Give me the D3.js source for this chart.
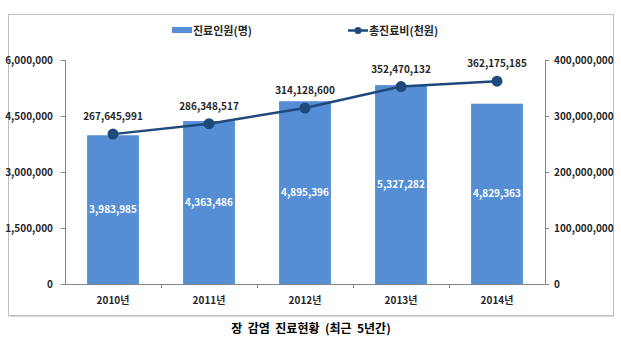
<!DOCTYPE html>
<html><head><meta charset="utf-8">
<script src="https://cdn.jsdelivr.net/npm/d3@7"></script>
<style>
html,body{margin:0;padding:0;background:#fff;}
svg{display:block;font-family:"Noto Sans CJK KR","Noto Sans",sans-serif;font-weight:bold;}
</style></head><body>
<svg id="c" width="621" height="342"></svg>
<script>
const categories = ["2010년","2011년","2012년","2013년","2014년"];
const patients = [3983985,4363486,4895396,5327282,4829363];
const costs = [267645991,286348517,314128600,352470132,362175185];
const leftTicks = [0,1500000,3000000,4500000,6000000];
const rightTicks = [0,100000000,200000000,300000000,400000000];
const seriesNames = ["진료인원(명)","총진료비(천원)"];
const title = "장  감염  진료현황  (최근  5년간)";

const svg = d3.select("#c");
const fmt = d3.format(",");
const L = 65, R = 545, T = 60, B = 284;
const barColor = "#558ed5", lineColor = "#1f497d", txt = "#262626";

svg.append("rect").attr("x",8.5).attr("y",14.5).attr("width",605).attr("height",301)
  .attr("fill","#fff").attr("stroke","#bfbfbf").attr("stroke-width",1);
svg.append("line").attr("x1",9).attr("x2",614).attr("y1",316.5).attr("y2",316.5).attr("stroke","#d9d9d9");

const x = d3.scaleBand().domain(categories).range([L,R]).paddingInner(0).paddingOuter(0);
const yL = d3.scaleLinear().domain([0,6000000]).range([B,T]);
const yR = d3.scaleLinear().domain([0,400000000]).range([B,T]);
const bw = x.bandwidth()*0.54;

// bars
svg.selectAll("rect.bar").data(patients).join("rect").attr("class","bar")
  .attr("x",(d,i)=>x(categories[i])+x.bandwidth()/2-bw/2)
  .attr("width",bw).attr("y",d=>yL(d)).attr("height",d=>B-yL(d)).attr("fill",barColor);
svg.selectAll("text.bv").data(patients).join("text").attr("class","bv")
  .attr("x",(d,i)=>x(categories[i])+x.bandwidth()/2)
  .attr("y",d=>(yL(d)+B)/2).attr("dy","0.35em").attr("text-anchor","middle")
  .attr("fill","#fff").attr("font-size",10).text(d=>fmt(d));

// axes
const axL = svg.append("g").attr("transform",`translate(${L},0)`)
  .call(d3.axisLeft(yL).tickValues(leftTicks).tickFormat(fmt).tickSize(4).tickPadding(8));
const axR = svg.append("g").attr("transform",`translate(${R},0)`)
  .call(d3.axisRight(yR).tickValues(rightTicks).tickFormat(fmt).tickSize(4).tickPadding(5));
const axB = svg.append("g").attr("transform",`translate(0,${B})`)
  .call(d3.axisBottom(x).tickSize(0).tickPadding(13));
[axL,axR,axB].forEach(g=>{
  g.select(".domain").attr("stroke","#868686");
  g.selectAll(".tick line").attr("stroke","#868686");
  g.selectAll("text").attr("fill",txt).attr("font-size",10).attr("font-family",'"Noto Sans CJK KR",sans-serif').attr("font-weight","bold");
});
axB.select(".domain").attr("d",`M${L},0.5H${R}`);
// category boundary ticks
svg.selectAll("line.ct").data(categories.slice(1)).join("line").attr("class","ct")
  .attr("x1",d=>x(d)+0.5).attr("x2",d=>x(d)+0.5).attr("y1",B).attr("y2",B+4).attr("stroke","#868686");

// line
const line = d3.line().x((d,i)=>x(categories[i])+x.bandwidth()/2).y(d=>yR(d));
svg.append("path").datum(costs).attr("d",line).attr("fill","none").attr("stroke",lineColor).attr("stroke-width",2.5);
svg.selectAll("circle.pt").data(costs).join("circle").attr("class","pt")
  .attr("cx",(d,i)=>x(categories[i])+x.bandwidth()/2).attr("cy",d=>yR(d)).attr("r",5.5).attr("fill",lineColor);
svg.selectAll("text.lv").data(costs).join("text").attr("class","lv")
  .attr("x",(d,i)=>x(categories[i])+x.bandwidth()/2).attr("y",d=>yR(d)-14)
  .attr("text-anchor","middle").attr("fill",txt).attr("font-size",10).text(d=>fmt(d));

// legend
svg.append("rect").attr("x",172).attr("y",27).attr("width",20).attr("height",6).attr("fill",barColor);
svg.append("text").attr("x",193).attr("y",31).attr("dy","0.35em").attr("font-size",11).attr("fill",txt).text(seriesNames[0]);
svg.append("line").attr("x1",348).attr("x2",368).attr("y1",30.5).attr("y2",30.5).attr("stroke",lineColor).attr("stroke-width",2.5);
svg.append("circle").attr("cx",358).attr("cy",30.5).attr("r",3.5).attr("fill",lineColor);
svg.append("text").attr("x",369).attr("y",31).attr("dy","0.35em").attr("font-size",11).attr("fill",txt).text(seriesNames[1]);

// title
svg.append("text").attr("x",311).attr("y",329).attr("dy","0.35em").attr("text-anchor","middle")
  .attr("font-size",12).attr("fill","#000").style("white-space","pre").text(title);
</script>
</body></html>
